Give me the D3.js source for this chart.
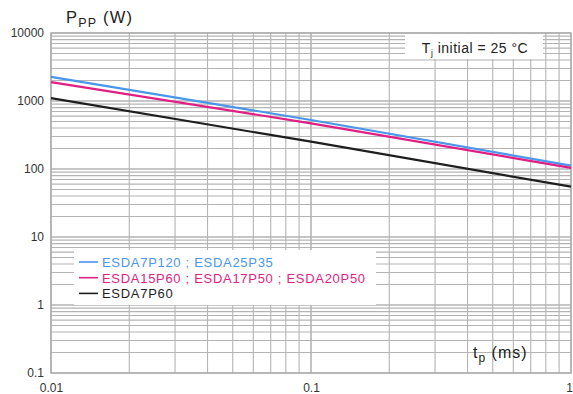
<!DOCTYPE html>
<html>
<head>
<meta charset="utf-8">
<script src="https://cdn.jsdelivr.net/npm/d3@7"></script>
<style>
  html, body { margin: 0; padding: 0; background: #fff; }
  svg { display: block; font-family: Arial, "Liberation Sans", sans-serif; }
</style>
</head>
<body>
<svg id="chart" width="573" height="394"></svg>
<script>
// Peak pulse power vs pulse duration (log-log)
const pulseTimes = [0.01, 0.1, 1];              // tp (ms)
const esda7p120 = [2270, 526, 112];             // W
const esda15p60 = [1900, 470, 104];             // W
const esda7p60  = [1100, 252, 55];              // W

const seriesNames = [
  "ESDA7P120 ; ESDA25P35",
  "ESDA15P60 ; ESDA17P50 ; ESDA20P50",
  "ESDA7P60"
];
const seriesColors = ["#4a96ea", "#e01e84", "#1e1e1e"];
const seriesValues = [esda7p120, esda15p60, esda7p60];

const xTicks = [0.01, 0.1, 1];
const xTickLabels = ["0.01", "0.1", "1"];
const yTicks = [0.1, 1, 10, 100, 1000, 10000];
const yTickLabels = ["0.1", "1", "10", "100", "1000", "10000"];

const svg = d3.select("#chart");
const m = { left: 51, right: 571, top: 33, bottom: 373 };

const x = d3.scaleLog().domain([0.01, 1]).range([m.left, m.right]);
const y = d3.scaleLog().domain([0.1, 10000]).range([m.bottom, m.top]);

// minor + major grid values
const gridX = [];
for (let d = 0.01; d < 1; d *= 10) for (let k = 1; k <= 10; k++) gridX.push(+(d * k).toPrecision(3));
const gridY = [];
for (let d = 0.1; d < 10000; d *= 10) for (let k = 1; k <= 10; k++) gridY.push(+(d * k).toPrecision(3));

const grid = svg.append("g");
grid.selectAll("line.gx").data(gridX).join("line")
  .attr("x1", d => x(d)).attr("x2", d => x(d))
  .attr("y1", m.top).attr("y2", m.bottom)
  .attr("stroke", "#b4b4b4").attr("stroke-width", 1.1);
grid.selectAll("line.gy").data(gridY).join("line")
  .attr("y1", d => y(d)).attr("y2", d => y(d))
  .attr("x1", m.left).attr("x2", m.right)
  .attr("stroke", "#b4b4b4").attr("stroke-width", 1.1);

// frame
svg.append("rect")
  .attr("x", m.left).attr("y", m.top)
  .attr("width", m.right - m.left).attr("height", m.bottom - m.top)
  .attr("fill", "none").attr("stroke", "#a8a8a8").attr("stroke-width", 1.4);

// axes (labels only)
const yAxis = d3.axisLeft(y).tickValues(yTicks)
  .tickFormat((d, i) => yTickLabels[i]).tickSize(0).tickPadding(7);
svg.append("g").attr("transform", `translate(${m.left},0)`).call(yAxis)
  .call(g => g.select(".domain").remove())
  .selectAll("text").attr("font-size", 12).attr("fill", "#333")
  .attr("font-family", "Arial, 'Liberation Sans', sans-serif");

const xAxis = d3.axisBottom(x).tickValues(xTicks)
  .tickFormat((d, i) => xTickLabels[i]).tickSize(0).tickPadding(10);
svg.append("g").attr("transform", `translate(0,${m.bottom})`).call(xAxis)
  .call(g => g.select(".domain").remove())
  .selectAll("text").attr("font-size", 12).attr("fill", "#333")
  .attr("font-family", "Arial, 'Liberation Sans', sans-serif")
  .attr("dx", (d, i) => i === xTicks.length - 1 ? -2 : 0);

// curves
const line = d3.line().x(d => x(d[0])).y(d => y(d[1]));
seriesValues.forEach((vals, i) => {
  svg.append("path")
    .datum(pulseTimes.map((t, j) => [t, vals[j]]))
    .attr("d", line)
    .attr("fill", "none")
    .attr("stroke", seriesColors[i])
    .attr("stroke-width", 2.2);
});

// condition box
svg.append("rect").attr("x", 405).attr("y", 34).attr("width", 138).attr("height", 25).attr("fill", "#fff");
const tj = svg.append("text").attr("x", 475).attr("y", 53).attr("text-anchor", "middle")
  .attr("font-size", 14).attr("letter-spacing", 0.5).attr("fill", "#222");
tj.append("tspan").text("T");
tj.append("tspan").attr("font-size", 8.5).attr("dy", 3).text("j");
tj.append("tspan").attr("dy", -3).text(" initial = 25 °C");

// legend
svg.append("rect").attr("x", 74).attr("y", 250).attr("width", 302).attr("height", 55).attr("fill", "#fff");
seriesNames.forEach((name, i) => {
  const yy = 262 + i * 15.7;
  svg.append("line").attr("x1", 79).attr("x2", 98).attr("y1", yy).attr("y2", yy)
    .attr("stroke", seriesColors[i]).attr("stroke-width", 1.6);
  svg.append("text").attr("x", 102).attr("y", yy + 4.8).attr("font-size", 13)
    .attr("letter-spacing", 0.7)
    .attr("fill", seriesColors[i]).text(name);
});

// axis titles
const yt = svg.append("text").attr("x", 66).attr("y", 23).attr("font-size", 16.5)
  .attr("letter-spacing", 1.2).attr("fill", "#222");
yt.append("tspan").text("P");
yt.append("tspan").attr("font-size", 12.5).attr("dy", 4).text("PP");
yt.append("tspan").attr("dy", -4).text(" (W)");

const xt = svg.append("text").attr("x", 473).attr("y", 358).attr("font-size", 16)
  .attr("letter-spacing", 1).attr("fill", "#222");
xt.append("tspan").text("t");
xt.append("tspan").attr("font-size", 12).attr("dy", 4).text("p");
xt.append("tspan").attr("dy", -4).text(" (ms)");
</script>
</body>
</html>
